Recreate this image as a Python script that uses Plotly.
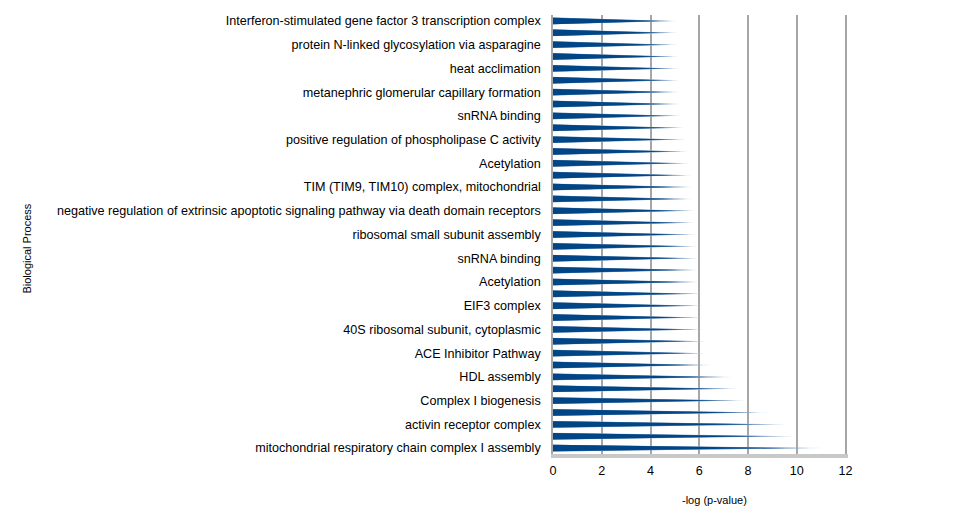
import plotly.graph_objects as go

# -log(p-value) per term, bottom bar first (37 bars, every other one labelled)
values = [11.1, 9.9, 9.6, 8.9, 7.9, 7.6, 7.35, 6.5, 6.3, 6.3, 6.2, 6.15, 6.15,
          6.15, 6.05, 6.0, 6.0, 5.95, 5.9, 5.85, 5.85, 5.75, 5.75, 5.7, 5.6,
          5.55, 5.45, 5.4, 5.25, 5.25, 5.2, 5.2, 5.2, 5.15, 5.1, 5.1, 5.1]

# labels shown on the axis (bottom to top, on bars 0, 2, 4, ...)
labels = [
    "mitochondrial respiratory chain complex I assembly",
    "activin receptor complex",
    "Complex I biogenesis",
    "HDL assembly",
    "ACE Inhibitor Pathway",
    "40S ribosomal subunit, cytoplasmic",
    "EIF3 complex",
    "Acetylation",
    "snRNA binding",
    "ribosomal small subunit assembly",
    "negative regulation of extrinsic apoptotic signaling pathway via death domain receptors",
    "TIM (TIM9, TIM10) complex, mitochondrial",
    "Acetylation",
    "positive regulation of phospholipase C activity",
    "snRNA binding",
    "metanephric glomerular capillary formation",
    "heat acclimation",
    "protein N-linked glycosylation via asparagine",
    "Interferon-stimulated gene factor 3 transcription complex",
]

x_ticks = [0, 2, 4, 6, 8, 10, 12]


def cones(frac, half):
    """tapered bar outlines, one polygon per value, separated by None"""
    xs, ys = [], []
    for i, v in enumerate(values):
        xs += [0, frac * v, 0, 0, None]
        ys += [i - half, i, i + half, i - half, None]
    return xs, ys


fig = go.Figure()

# light tip, mid layer, dark body -> rough gradient like the 3D cones
for frac, half, col in [(1.0, 0.29, "#b4c6da"), (0.95, 0.28, "#5f88b3"),
                        (0.86, 0.27, "#004586")]:
    xs, ys = cones(frac, half)
    fig.add_trace(go.Scatter(x=xs, y=ys, mode="lines", fill="toself",
                             fillcolor=col, line=dict(width=0),
                             hoverinfo="skip", showlegend=False))

# page body adds 8px, so margins are 8px smaller on left/top
fig.update_layout(
    width=956, height=523,
    margin=dict(l=545, r=116, t=7, b=77),
    paper_bgcolor="white", plot_bgcolor="white",
    font=dict(family="Liberation Sans, Arial, sans-serif", size=12.6, color="black"),
    showlegend=False,
)

fig.update_xaxes(
    range=[0, 12.1], tickvals=x_ticks, showgrid=True,
    gridcolor="#a6a6a6", gridwidth=1.5, zeroline=False,
    showline=True, linecolor="#c8c8c8", linewidth=4,
    ticks="outside", ticklen=2, tickcolor="white",
)
fig.update_yaxes(
    range=[-0.5, 36.5], tickvals=list(range(0, len(values), 2)),
    ticktext=labels, showgrid=False, zeroline=False,
    showline=True, linecolor="#a6a6a6", linewidth=1.5,
    ticks="outside", ticklen=8, tickcolor="white",
)

fig.add_annotation(text="-log (p-value)", xref="paper", yref="paper",
                   x=0.549, y=-0.104, xanchor="center", yanchor="middle",
                   showarrow=False, font=dict(size=11))
fig.add_annotation(text="Biological Process", xref="paper", yref="paper",
                   x=-1.783, y=0.468, xanchor="center", yanchor="middle",
                   textangle=-90, showarrow=False, font=dict(size=11))

fig.write_html("out.html")
